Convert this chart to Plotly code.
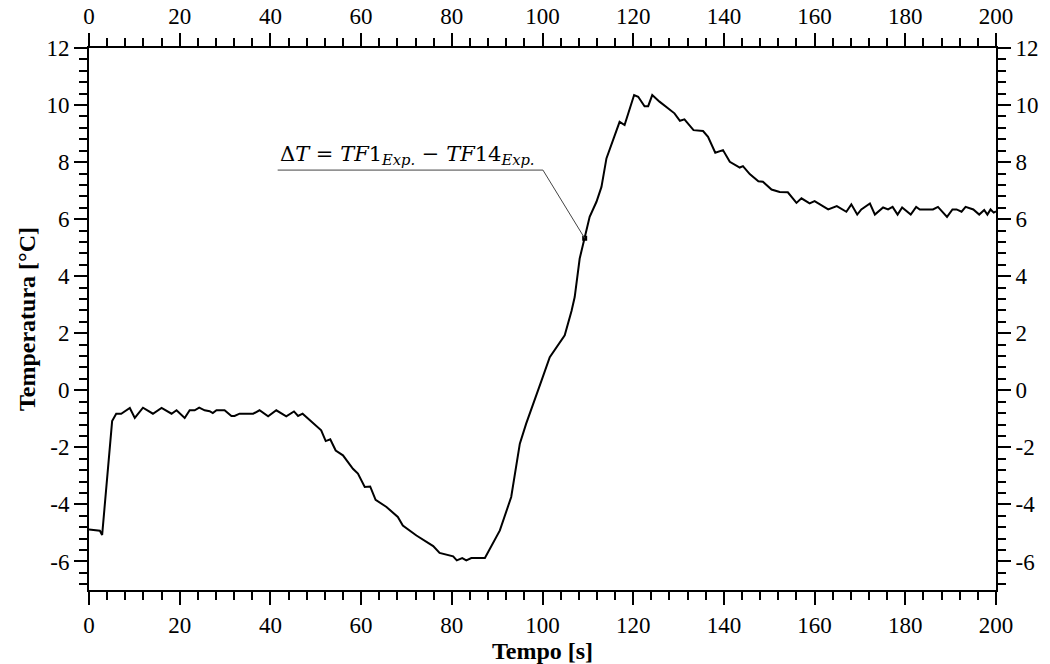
import plotly.graph_objects as go

# ---- data ----
tempo = [0, 2.4, 2.9, 5.1, 6.0, 7.1, 9.0, 10.1, 11.9, 14.1, 16.0, 18.2, 19.3, 21.1, 22.2, 23.3, 24.3,
         25.5, 26.6, 27.3, 28.1, 29.9, 31.4, 32.1, 33.2, 36.2, 37.6, 39.5, 41.3, 43.5, 45.2, 46.1,
         47.1, 48.7, 50.1, 51.2, 52.2, 53.2, 54.4, 56.0, 58.2, 59.3, 60.8, 62.0, 63.2, 65.6, 68.1,
         69.2, 72.2, 75.9, 77.3, 79.2, 80.3, 81.1, 82.3, 83.2, 84.3, 87.3, 90.6, 93.1, 95.0, 96.4,
         97.9, 99.8, 101.6, 104.9, 106.4, 107.1, 108.2, 109.3, 110.4, 111.9, 113.0, 114.1, 115.6,
         117.0, 118.1, 120.2, 121.1, 122.5, 123.3, 124.2, 125.8, 129.1, 130.3, 131.3, 133.3, 135.4,
         136.5, 138.1, 139.8, 141.3, 143.5, 144.2, 145.7, 147.6, 148.6, 150.5, 152.3, 154.1, 156.0,
         157.1, 158.9, 160.0, 163.0, 164.9, 167.0, 168.1, 169.4, 170.3, 172.2, 173.3, 175.1, 176.2,
         177.2, 178.3, 179.3, 181.2, 182.4, 183.2, 186.1, 187.2, 189.2, 190.4, 191.3, 192.4, 193.3,
         195.0, 196.3, 197.4, 198.1, 198.8, 199.5, 200.0]
delta_t = [-4.88, -4.92, -5.07, -1.08, -0.82, -0.82, -0.62, -0.97, -0.61, -0.82, -0.62, -0.82, -0.70,
           -0.97, -0.70, -0.70, -0.61, -0.70, -0.73, -0.80, -0.70, -0.70, -0.90, -0.90, -0.82, -0.82,
           -0.70, -0.91, -0.70, -0.91, -0.74, -0.90, -0.82, -1.05, -1.23, -1.40, -1.78, -1.72, -2.11,
           -2.28, -2.75, -2.92, -3.39, -3.37, -3.84, -4.09, -4.44, -4.74, -5.09, -5.46, -5.70, -5.76,
           -5.82, -5.96, -5.88, -5.96, -5.88, -5.88, -4.91, -3.74, -1.87, -1.17, -0.53, 0.35, 1.16,
           1.93, 2.78, 3.27, 4.62, 5.33, 6.08, 6.61, 7.13, 8.13, 8.77, 9.41, 9.30, 10.35, 10.29,
           9.96, 9.96, 10.35, 10.12, 9.71, 9.45, 9.50, 9.12, 9.09, 8.89, 8.33, 8.42, 8.01, 7.81, 7.86,
           7.58, 7.33, 7.31, 7.04, 6.95, 6.94, 6.57, 6.73, 6.55, 6.63, 6.34, 6.46, 6.26, 6.52, 6.16,
           6.34, 6.55, 6.16, 6.41, 6.34, 6.43, 6.16, 6.41, 6.16, 6.43, 6.34, 6.34, 6.43, 6.08, 6.34,
           6.34, 6.26, 6.43, 6.34, 6.16, 6.32, 6.16, 6.34, 6.23, 6.27]

x_ticks = [0, 20, 40, 60, 80, 100, 120, 140, 160, 180, 200]
x_ticklabels = [str(v) for v in x_ticks]
y_ticks = [-6, -4, -2, 0, 2, 4, 6, 8, 10, 12]
y_ticklabels = [str(v) for v in y_ticks]

label_text = ("Δ<i>T</i> = <i>TF</i>1<sub><i>Exp.</i></sub> − "
              "<i>TF</i>14<sub><i>Exp.</i></sub>")
# annotation geometry (data coords)
label_left, label_right, label_y = 41.6, 100.1, 7.72
point_x, point_y = 109.3, 5.33

FONT = "Liberation Serif"
TICK_SIZE = 23

fig = go.Figure()
fig.add_trace(go.Scatter(x=tempo, y=delta_t, mode="lines",
                         line=dict(color="black", width=2), showlegend=False))
# invisible trace to activate secondary axes
fig.add_trace(go.Scatter(x=[0], y=[0], xaxis="x2", yaxis="y2", mode="markers",
                         marker=dict(opacity=0), showlegend=False, hoverinfo="skip"))

axis_common = dict(showline=True, linecolor="black", linewidth=2, mirror=False,
                   ticks="outside", tickcolor="black", tickwidth=2, ticklen=13,
                   showgrid=False, zeroline=False, automargin=False,
                   tickfont=dict(family=FONT, size=TICK_SIZE, color="black"))
minor_x = dict(dtick=4, tick0=0, ticks="outside", ticklen=8, tickwidth=1.5,
               tickcolor="black", showgrid=False)
minor_y = dict(dtick=0.4, tick0=0, ticks="outside", ticklen=8, tickwidth=1.5,
               tickcolor="black", showgrid=False)

fig.update_layout(
    template="none",
    width=1050, height=664,
    margin=dict(l=89, r=54, t=48, b=74),
    plot_bgcolor="white", paper_bgcolor="white",
    xaxis=dict(range=[0, 200], tickvals=x_ticks, ticktext=x_ticklabels, minor=minor_x,
               title=dict(text="<b>Tempo [s]</b>", font=dict(family=FONT, size=24, color="black"),
                          standoff=2),
               **axis_common),
    yaxis=dict(range=[-7, 12], tickvals=y_ticks, ticktext=y_ticklabels, minor=minor_y,
               title=dict(text="<b>Temperatura [°C]</b>", font=dict(family=FONT, size=24, color="black"),
                          standoff=4),
               **axis_common),
    xaxis2=dict(range=[0, 200], overlaying="x", side="top", anchor="y",
                tickvals=x_ticks, ticktext=x_ticklabels, minor=minor_x, **axis_common),
    yaxis2=dict(range=[-7, 12], overlaying="y", side="right", anchor="x",
                tickvals=y_ticks, ticktext=y_ticklabels, minor=minor_y, **axis_common),
)

# leader line and label
fig.add_shape(type="line", x0=label_left, y0=label_y, x1=label_right, y1=label_y,
              line=dict(color="#444444", width=1))
fig.add_shape(type="line", x0=label_right, y0=label_y, x1=point_x, y1=point_y,
              line=dict(color="#444444", width=1))
fig.add_trace(go.Scatter(x=[point_x], y=[point_y], mode="markers",
                         marker=dict(symbol="square", size=5, color="black"),
                         showlegend=False, hoverinfo="skip"))
fig.add_annotation(x=label_left, y=label_y, xref="x", yref="y", xanchor="left", yanchor="bottom",
                   text=label_text, showarrow=False, yshift=0,
                   font=dict(family="DejaVu Serif", size=21, color="black"))

fig.write_html("out.html")
